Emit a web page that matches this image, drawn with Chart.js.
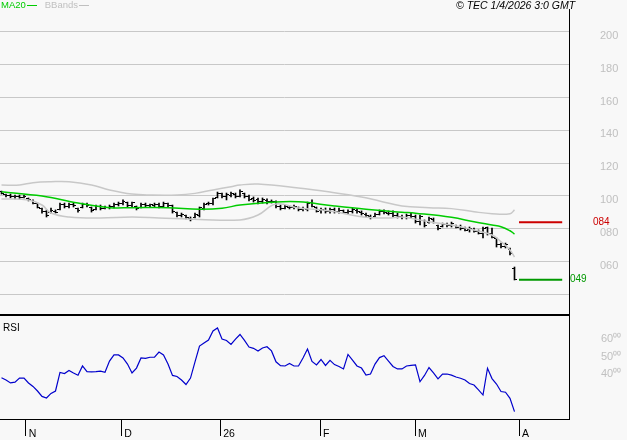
<!DOCTYPE html>
<html>
<head>
<meta charset="utf-8">
<script src="https://cdn.jsdelivr.net/npm/chart.js@4.4.1/dist/chart.umd.min.js"></script>
<style>
  body { margin: 0; background: #f8f8f8; }
  #wrap { position: relative; width: 627px; height: 440px; font-family: "Liberation Sans", Arial, sans-serif; }
  .panel { position: absolute; left: 0; width: 627px; }
  #legend { position: absolute; left: 1px; top: -1px; font-size: 9.5px; line-height: 12px; white-space: nowrap; }
  #legend .dash { display: inline-block; width: 10px; height: 0; border-top: 1px solid; vertical-align: middle; margin-left: 1px; }
  #copy { position: absolute; left: 456px; top: -1px; font-size: 10.5px; line-height: 12px; font-style: italic; color: #000; white-space: nowrap; }
</style>
</head>
<body>
<div id="wrap">
  <div class="panel" style="top:0;height:315px"><canvas id="priceChart"></canvas></div>
  <div class="panel" style="top:314px;height:126px"><canvas id="rsiChart"></canvas></div>
  <div id="legend"><span style="color:#00cc00">MA20<span class="dash"></span></span>&nbsp;&nbsp; <span style="color:#c0c0c0">BBands<span class="dash"></span></span></div>
  <div id="copy">© TEC 1/4/2026 3:0 GMT</div>
</div>
<script>
// daily bars, oldest first
var highs  = [103.0, 101.2, 101.2, 100.6, 100.6, 100.6, 98.8, 97.6, 95.7, 92.7,
              91.5, 92.7, 91.5, 95.7, 95.7, 95.7, 95.7, 92.7, 95.7, 95.7,
              93.3, 94.5, 94.5, 93.9, 94.5, 95.7, 96.3, 97.6, 96.3, 96.3,
              93.9, 95.7, 95.7, 95.1, 95.7, 95.7, 96.3, 95.7, 94.5, 90.2,
              89.6, 88.4, 87.2, 89.6, 93.3, 95.7, 96.3, 98.8, 102.4, 101.8,
              101.8, 102.4, 101.8, 103.7, 101.8, 100.6, 99.4, 98.8, 98.8, 98.2,
              97.6, 97.0, 94.5, 94.5, 93.9, 94.5, 93.3, 93.3, 96.3, 97.6,
              93.3, 92.7, 92.7, 92.7, 92.7, 92.7, 91.5, 91.5, 92.7, 92.1,
              90.9, 89.6, 88.4, 89.6, 91.5, 91.5, 90.9, 90.9, 89.6, 88.4,
              89.0, 89.6, 88.4, 88.4, 85.4, 87.2, 86.6, 82.3, 83.5, 83.5,
              84.1, 82.3, 82.3, 81.1, 81.1, 80.5, 79.3, 81.1, 81.1, 80.5,
              74.4, 71.3, 71.3, 68.3, 56.7];
var lows   = [101.2, 99.4, 98.8, 98.2, 98.0, 98.8, 97.0, 95.1, 92.7, 89.6,
              87.2, 89.6, 89.6, 91.5, 92.7, 92.7, 93.3, 90.2, 92.7, 93.3,
              90.2, 91.5, 91.5, 92.1, 92.1, 92.7, 93.9, 94.5, 93.3, 93.3,
              91.5, 92.7, 93.3, 93.3, 93.3, 92.7, 93.3, 93.3, 89.6, 87.2,
              87.2, 86.0, 84.8, 86.6, 87.2, 91.5, 94.5, 94.5, 98.8, 98.8,
              97.6, 99.4, 98.8, 99.4, 98.8, 97.0, 96.3, 95.1, 95.7, 95.1,
              95.7, 92.7, 91.5, 92.1, 92.1, 92.1, 90.9, 90.9, 90.9, 93.3,
              90.2, 89.6, 89.6, 89.6, 89.6, 89.6, 89.6, 89.0, 89.6, 89.6,
              88.4, 87.2, 86.0, 87.2, 88.4, 89.0, 88.4, 87.2, 86.6, 86.0,
              86.0, 86.6, 83.5, 82.3, 81.1, 83.5, 83.5, 79.3, 81.1, 81.1,
              81.1, 80.5, 79.3, 78.7, 78.0, 78.0, 76.8, 74.4, 76.2, 74.4,
              68.9, 68.3, 68.3, 64.0, 48.8];
var opens  = [102.6, 101.0, 100.2, 99.4, 99.8, 99.2, 98.4, 97.2, 95.2, 92.4,
              90.6, 90.0, 90.6, 91.8, 94.6, 93.4, 94.6, 92.2, 93.0, 94.6,
              92.8, 91.8, 93.4, 92.6, 93.0, 93.6, 95.0, 95.6, 96.0, 94.4,
              93.4, 92.8, 94.6, 94.0, 94.4, 94.8, 93.8, 95.2, 94.0, 89.8,
              88.2, 88.0, 86.4, 86.8, 88.0, 92.4, 95.2, 95.4, 99.0, 101.4,
              99.6, 100.6, 101.2, 99.8, 101.6, 99.6, 98.2, 97.6, 96.4, 97.4,
              96.6, 96.6, 93.6, 92.6, 93.2, 92.8, 93.0, 91.8, 92.0, 96.0,
              93.0, 91.0, 91.4, 90.6, 91.6, 90.8, 91.0, 90.2, 90.8, 91.4,
              90.2, 89.0, 87.8, 87.4, 89.0, 90.6, 89.6, 89.4, 88.2, 87.4,
              87.0, 88.4, 87.6, 84.6, 85.0, 83.8, 85.8, 82.0, 81.4, 82.4,
              82.0, 81.8, 81.2, 80.4, 79.4, 79.6, 78.6, 77.2, 80.6, 77.4,
              73.8, 70.2, 69.4, 67.6, 56.0];
var closes = [101.6, 100.2, 99.6, 99.8, 99.0, 99.8, 97.6, 95.6, 93.2, 90.4,
              88.2, 91.0, 90.2, 94.8, 93.6, 94.8, 94.2, 91.0, 94.8, 94.0,
              91.2, 93.6, 92.6, 93.2, 93.8, 95.0, 95.4, 96.6, 94.2, 95.8,
              92.2, 94.8, 94.2, 94.6, 95.0, 93.6, 95.6, 94.2, 90.4, 88.0,
              88.8, 86.6, 85.6, 89.0, 92.8, 95.0, 95.6, 98.4, 101.8, 99.4,
              100.8, 101.6, 99.6, 102.8, 99.8, 98.0, 97.4, 96.4, 97.6, 96.6,
              96.8, 93.4, 92.6, 93.4, 92.8, 93.6, 91.8, 92.4, 95.6, 93.8,
              90.8, 91.6, 90.4, 91.8, 90.6, 91.4, 90.2, 90.8, 91.6, 90.4,
              89.2, 88.0, 86.8, 89.0, 90.8, 89.8, 89.4, 88.0, 87.6, 87.0,
              88.2, 87.2, 84.2, 87.6, 82.0, 86.0, 84.0, 80.2, 82.6, 82.0,
              83.0, 81.0, 80.2, 79.2, 80.0, 78.6, 77.4, 80.4, 77.0, 75.0,
              70.2, 69.0, 70.4, 64.8, 49.0];

// MA20 and Bollinger bands, read at bar positions
var maIdx  = [0, 9, 17, 24, 29, 37, 44, 49, 53, 60, 66, 74, 81, 89, 92, 100, 105, 109, 111, 113, 114];
var maVals = [102.6, 100.0, 95.7, 92.9, 92.9, 92.9, 91.9, 92.5, 94.5, 96.2, 96.5, 93.9, 91.9, 90.1, 89.5, 87.0, 84.3, 82.3, 81.3, 78.8, 76.8];
var bbUpIdx  = [0, 4, 7, 11, 15, 20, 24, 29, 33, 39, 43, 47, 51, 53, 57, 66, 73, 80, 84, 89, 95, 100, 105, 109, 113, 114];
var bbUpVals = [106.7, 106.7, 108.1, 108.7, 108.7, 106.7, 103.7, 101.2, 100.6, 100.6, 101.6, 103.7, 105.7, 106.7, 107.3, 104.9, 102.4, 99.4, 97.0, 93.9, 92.9, 92.3, 90.4, 89.2, 89.2, 91.5];
var bbLoIdx  = [0, 6, 9, 11, 15, 22, 29, 35, 44, 53, 57, 61, 66, 73, 80, 86, 89, 95, 100, 105, 109, 111, 113, 114];
var bbLoVals = [98.2, 97.6, 94.5, 89.6, 87.2, 86.6, 87.2, 86.6, 85.7, 85.4, 88.4, 95.1, 92.7, 90.9, 87.4, 86.6, 87.2, 84.3, 82.3, 79.3, 76.2, 72.1, 67.1, 62.8];

var rsi = [38.0, 36.7, 35.0, 35.5, 37.8, 37.8, 35.0, 33.0, 30.4, 27.3,
           26.4, 29.0, 30.4, 41.0, 40.4, 42.1, 40.7, 39.4, 44.7, 41.5,
           41.3, 41.5, 41.8, 41.1, 47.5, 51.0, 51.0, 49.3, 45.8, 40.7,
           43.5, 49.3, 49.0, 49.7, 49.8, 52.7, 51.0, 45.8, 39.3, 38.7,
           36.7, 34.1, 37.8, 47.0, 56.1, 57.8, 59.5, 64.7, 66.4, 60.1,
           59.3, 57.0, 60.1, 62.7, 59.3, 55.5, 54.8, 53.3, 55.0, 55.7,
           53.3, 47.1, 44.9, 44.7, 46.1, 44.7, 44.7, 49.3, 54.4, 47.3,
           45.3, 48.4, 45.0, 47.9, 45.5, 44.4, 43.0, 51.3, 48.1, 44.7,
           43.5, 39.5, 40.1, 45.8, 49.5, 50.6, 47.5, 44.4, 43.0, 43.0,
           44.7, 45.0, 45.3, 35.7, 39.3, 43.8, 40.7, 37.3, 40.1, 40.1,
           39.5, 38.4, 37.7, 36.7, 34.7, 33.8, 31.0, 28.1, 43.4, 37.5,
           34.4, 30.1, 29.7, 26.2, 18.6];

var levelHigh = 84, levelLow = 49;
var levelFrom = 115, levelTo = 124.6;

var monthTicks  = [5.4, 26.6, 48.6, 70.8, 91.9, 115];
var monthLabels = ['N', 'D', '26', 'F', 'M', 'A'];
var priceTicks  = [40, 60, 80, 100, 120, 140, 160, 180, 200];
var priceLabels = ['', '060', '080', '100', '120', '140', '160', '180', '200'];
var rsiTicks  = [40, 50, 60];
var rsiLabels = ['40\u2070\u2070', '50\u2070\u2070', '60\u2070\u2070'];

var X_MIN = -0.3333, X_MAX = 126.111;

Chart.defaults.font.family = '"Liberation Sans", Arial, sans-serif';
Chart.defaults.animation = false;
Chart.defaults.plugins.legend.display = false;
Chart.defaults.plugins.tooltip.enabled = false;

function tickImage(side) {
    var c = document.createElement('canvas');
    c.width = 5; c.height = 1;
    var g = c.getContext('2d');
    g.fillStyle = '#000';
    g.fillRect(side === 'left' ? 0 : 3, 0, 2, 1);
    return c;
}

// keep the axes from pushing the plot area in
function noPadding(scale) {
    scale.paddingTop = 0;
    scale.paddingBottom = 0;
    scale.paddingLeft = 0;
    scale.paddingRight = 0;
}

var priceExtras = {
    id: 'priceExtras',
    afterDraw: function(chart) {
        var ctx = chart.ctx, area = chart.chartArea, y = chart.scales.y;
        ctx.save();
        ctx.strokeStyle = '#000';
        ctx.lineWidth = 1;
        ctx.beginPath();
        ctx.moveTo(area.right + 0.5, 9);
        ctx.lineTo(area.right + 0.5, area.bottom);
        ctx.stroke();
        ctx.font = '10px "Liberation Sans", Arial, sans-serif';
        ctx.textBaseline = 'middle';
        ctx.fillStyle = '#cc0000';
        ctx.fillText('0' + levelHigh, 593, y.getPixelForValue(levelHigh));
        ctx.fillStyle = '#009900';
        ctx.fillText('0' + levelLow, 570, y.getPixelForValue(levelLow));
        ctx.restore();
    }
};

var priceCtx = document.getElementById('priceChart').getContext('2d');
var priceChart = new Chart(priceCtx, {
    type: 'bar',
    data: {
        datasets: [{
            type: 'line',
            data: bbUpIdx.map(function(x, k) { return {x: x, y: bbUpVals[k]}; }),
            borderColor: '#c8c8c8',
            borderWidth: 1.5,
            pointRadius: 0,
            tension: 0.4
        }, {
            type: 'line',
            data: bbLoIdx.map(function(x, k) { return {x: x, y: bbLoVals[k]}; }),
            borderColor: '#c8c8c8',
            borderWidth: 1.5,
            pointRadius: 0,
            tension: 0.4
        }, {
            type: 'line',
            data: maIdx.map(function(x, k) { return {x: x, y: maVals[k]}; }),
            borderColor: '#00cc00',
            borderWidth: 1.5,
            pointRadius: 0,
            tension: 0.4
        }, {
            type: 'bar',
            data: highs.map(function(h, i) { return {x: i, y: [lows[i], h]}; }),
            backgroundColor: '#000',
            borderWidth: 0,
            barThickness: 1,
            grouped: false
        }, {
            type: 'line',
            showLine: false,
            data: opens.map(function(v, i) { return {x: i, y: v}; }),
            pointStyle: tickImage('left'),
            pointRadius: 3
        }, {
            type: 'line',
            showLine: false,
            data: closes.map(function(v, i) { return {x: i, y: v}; }),
            pointStyle: tickImage('right'),
            pointRadius: 3
        }, {
            type: 'line',
            data: [{x: levelFrom, y: levelHigh}, {x: levelTo, y: levelHigh}],
            borderColor: '#cc0000',
            borderWidth: 2,
            pointRadius: 0
        }, {
            type: 'line',
            data: [{x: levelFrom, y: levelLow}, {x: levelTo, y: levelLow}],
            borderColor: '#009900',
            borderWidth: 2,
            pointRadius: 0
        }]
    },
    options: {
        responsive: true,
        maintainAspectRatio: false,
        layout: { padding: 0, autoPadding: false },
        scales: {
            x: {
                type: 'linear',
                min: X_MIN,
                max: X_MAX,
                offset: false,
                display: false,
                grid: { offset: false }
            },
            y: {
                position: 'right',
                min: 27.44,
                max: 219.51,
                afterFit: function(scale) { scale.width = 58; noPadding(scale); },
                afterBuildTicks: function(scale) {
                    scale.ticks = priceTicks.map(function(v) { return {value: v}; });
                },
                grid: { color: '#c8c8c8', drawTicks: false },
                border: { display: false },
                ticks: {
                    padding: 31,
                    labelOffset: 4,
                    color: '#c0c0c0',
                    font: { size: 11 },
                    autoSkip: false,
                    callback: function(v, i) { return priceLabels[i]; }
                }
            }
        }
    },
    plugins: [priceExtras]
});

var rsiExtras = {
    id: 'rsiExtras',
    afterDraw: function(chart) {
        var ctx = chart.ctx, area = chart.chartArea;
        ctx.save();
        ctx.fillStyle = '#000';
        ctx.fillRect(0, 0, area.right + 1, 2);
        ctx.font = '10px "Liberation Sans", Arial, sans-serif';
        ctx.textBaseline = 'middle';
        ctx.fillText('RSI', 3, 14);
        ctx.restore();
    }
};

var rsiCtx = document.getElementById('rsiChart').getContext('2d');
var rsiChart = new Chart(rsiCtx, {
    type: 'line',
    data: {
        datasets: [{
            data: rsi.map(function(v, i) { return {x: i, y: v}; }),
            borderColor: '#0000cc',
            borderWidth: 1.2,
            pointRadius: 0,
            tension: 0
        }]
    },
    options: {
        responsive: true,
        maintainAspectRatio: false,
        layout: { padding: { top: 2, left: 0, right: 0, bottom: 0 }, autoPadding: false },
        scales: {
            x: {
                type: 'linear',
                min: X_MIN,
                max: X_MAX,
                afterFit: function(scale) { scale.height = 21; noPadding(scale); },
                afterBuildTicks: function(scale) {
                    scale.ticks = monthTicks.map(function(v) { return {value: v}; });
                },
                grid: { drawOnChartArea: false, color: '#000', tickLength: 17 },
                border: { display: true, color: '#000', width: 1 },
                ticks: {
                    align: 'start',
                    labelOffset: 3,
                    padding: -8,
                    maxRotation: 0,
                    autoSkip: false,
                    color: '#000',
                    font: { size: 10.5 },
                    callback: function(v, i) { return monthLabels[i]; }
                }
            },
            y: {
                position: 'right',
                min: 14.40,
                max: 73.26,
                afterFit: function(scale) { scale.width = 58; noPadding(scale); },
                afterBuildTicks: function(scale) {
                    scale.ticks = rsiTicks.map(function(v) { return {value: v}; });
                },
                grid: { display: false },
                border: { display: true, color: '#000', width: 1 },
                ticks: {
                    padding: 24,
                    color: '#c0c0c0',
                    font: { size: 11 },
                    autoSkip: false,
                    callback: function(v, i) { return rsiLabels[i]; }
                }
            }
        }
    },
    plugins: [rsiExtras]
});
</script>
</body>
</html>
